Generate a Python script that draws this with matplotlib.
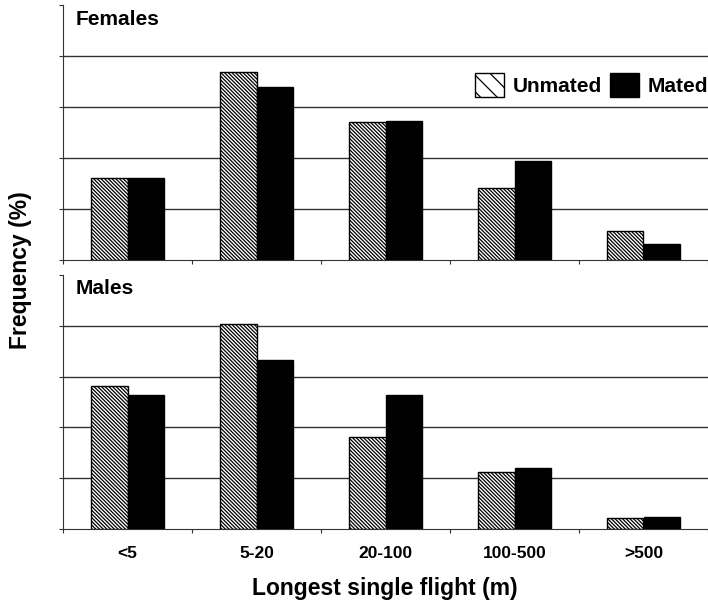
import matplotlib.pyplot as plt
import numpy as np
from matplotlib.patches import Patch

plt.rcParams['font.family'] = ['Liberation Sans', 'DejaVu Sans']
plt.rcParams['font.weight'] = 'bold'
plt.rcParams['hatch.linewidth'] = 0.9

categories = ["<5", "5-20", "20-100", "100-500", ">500"]

# frequency (%) of longest single flight
females_unmated = [16.1, 36.9, 27.1, 14.1, 5.7]
females_mated = [16.1, 33.9, 27.3, 19.4, 3.1]
males_unmated = [28.2, 40.4, 18.2, 11.2, 2.2]
males_mated = [26.3, 33.3, 26.3, 12.0, 2.4]

panels = [("Females", females_unmated, females_mated),
          ("Males", males_unmated, males_mated)]

fig = plt.figure(figsize=(7.08, 6.05), dpi=100)
ax_top = fig.add_axes([63/708, 1 - 260/605, 1 - 63/708, 255/605])
ax_bot = fig.add_axes([63/708, 1 - 529/605, 1 - 63/708, 254/605])

x = np.arange(len(categories))
w = 0.285

for ax, (title, unmated, mated) in zip([ax_top, ax_bot], panels):
    ax.bar(x - w/2, unmated, w, color='white', edgecolor='black',
           hatch='\\' * 9, linewidth=1.0, zorder=3)
    ax.bar(x + w/2, mated, w, color='black', edgecolor='black',
           linewidth=1.0, zorder=3)
    ax.set_xlim(-0.5, len(categories) - 0.5)
    ax.set_ylim(0, 50)
    ax.set_yticks([0, 10, 20, 30, 40, 50])
    ax.set_yticklabels([])
    for yv in [10, 20, 30, 40]:
        ax.axhline(yv, color='#333333', lw=1.0, zorder=1)
    ax.set_xticks(np.arange(len(categories) + 1) - 0.5)
    ax.set_xticklabels([])
    ax.tick_params(axis='both', length=3, width=0.8, color='#333333')
    for s in ['top', 'right']:
        ax.spines[s].set_visible(False)
    ax.spines['left'].set_color('#333333')
    ax.spines['bottom'].set_color('#333333')
    ax.text(0.02, 0.945, title, transform=ax.transAxes, fontsize=15,
            fontweight='bold', ha='left', va='center')

for xi, lab in zip(x, categories):
    ax_bot.text(xi, -4.8, lab, ha='center', va='center', fontsize=12.5,
                fontweight='bold')

fig.text(385/708, 1 - 588/605, "Longest single flight (m)", ha='center',
         va='center', fontsize=16.5, fontweight='bold')
fig.text(21/708, 1 - 270/605, "Frequency (%)", ha='center', va='center',
         rotation=90, fontsize=16.5, fontweight='bold')

handles = [Patch(facecolor='white', edgecolor='black', hatch='\\\\'),
           Patch(facecolor='black', edgecolor='black')]
fig.legend(handles, ["Unmated", "Mated"], ncol=2, frameon=False,
           loc='center right', bbox_to_anchor=(1.0, 1 - 85/605),
           prop={'size': 15, 'weight': 'bold'}, handlelength=1.4,
           handleheight=1.4, handletextpad=0.4, columnspacing=0.4,
           borderpad=0, borderaxespad=0)

fig.savefig("out.png", dpi=100)
